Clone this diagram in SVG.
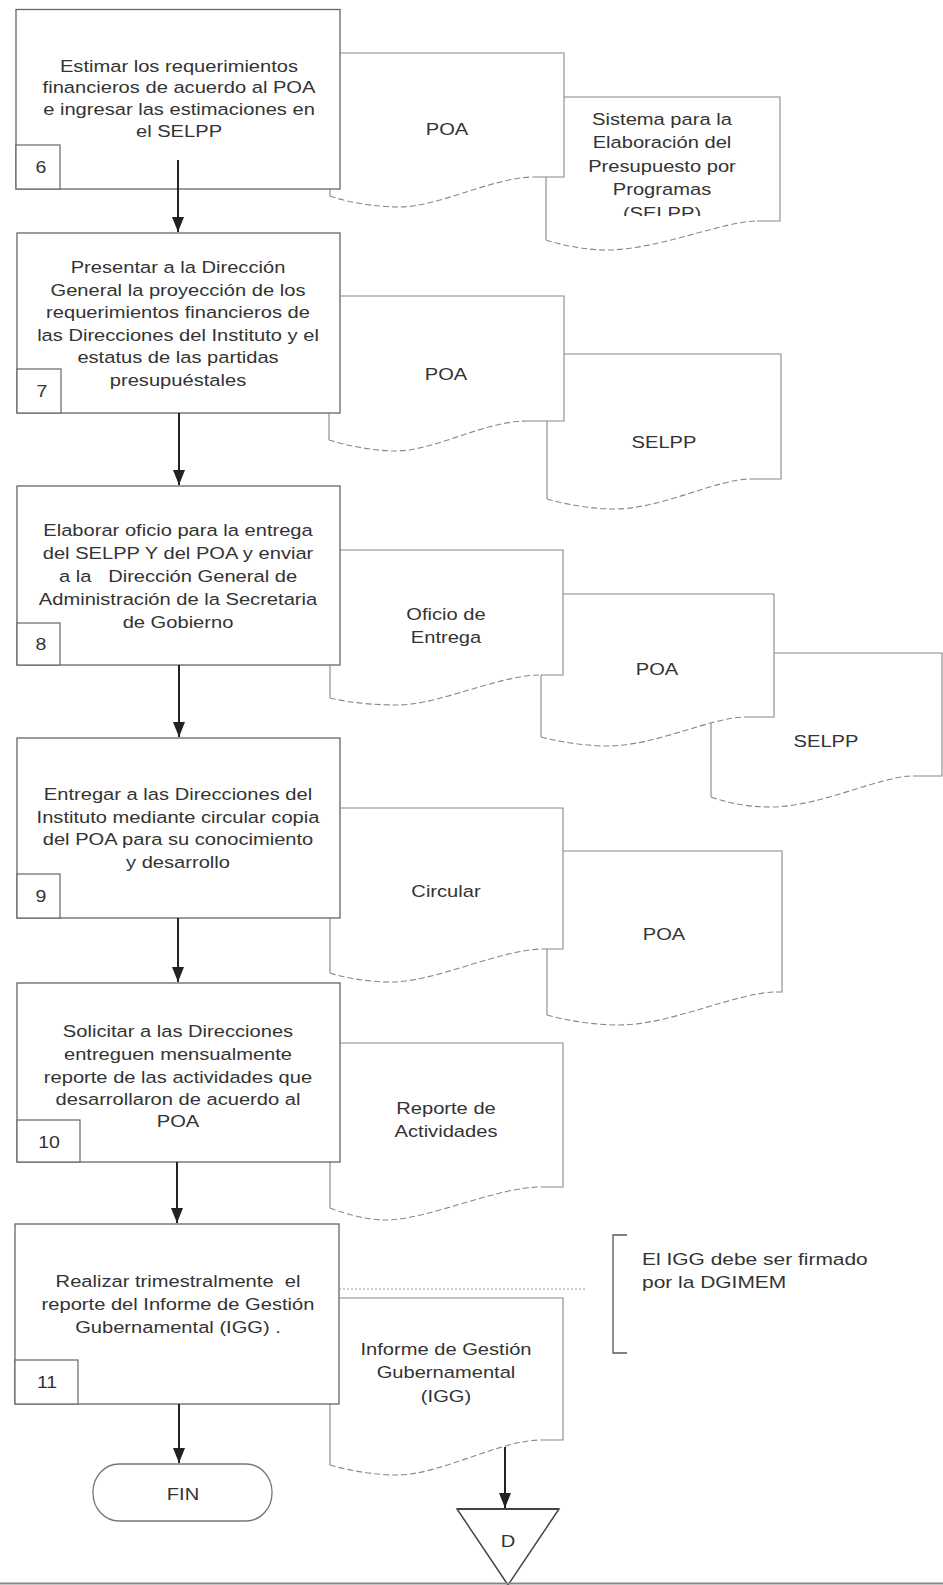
<svg xmlns="http://www.w3.org/2000/svg" width="943" height="1585" viewBox="0 0 943 1585">
<style>
  .box { fill: #fff; stroke: #666; stroke-width: 1.3; }
  .num { fill: #fff; stroke: #666; stroke-width: 1.2; }
  .docfill { fill: #fff; stroke: none; }
  .docline { fill: none; stroke: #888; stroke-width: 1.1; }
  .wave { fill: none; stroke: #888; stroke-width: 1.1; stroke-dasharray: 6 3; }
  .t { font-family: "Liberation Sans", Arial, sans-serif; font-size: 16.5px; fill: #333; text-anchor: middle; }
  .tl { font-family: "Liberation Sans", Arial, sans-serif; font-size: 16.5px; fill: #333; text-anchor: start; }
  .n { font-family: "Liberation Sans", Arial, sans-serif; font-size: 16px; fill: #333; text-anchor: middle; }
  .arrow { stroke: #222; stroke-width: 2; fill: none; marker-end: url(#ah); }
  .pre { white-space: pre; }
</style>
<defs>
  <marker id="ah" viewBox="0 -6 15 12" refX="15" refY="0" markerWidth="15" markerHeight="12" markerUnits="userSpaceOnUse" orient="auto">
    <path d="M0,-6 L15,0 L0,6 z" fill="#222"/>
  </marker>
  <clipPath id="clipSis"><rect x="546" y="90" width="240" height="126"/></clipPath>
</defs>

<!-- Row 6 documents -->
<g id="doc6b">
  <path class="docfill" d="M546,240 L546,97 L780,97 L780,221 L757,221 C723,221 658,250 606,250 C588,250 564,246 546,240 Z"/>
  <path class="docline" d="M546,240 L546,177 M564,97 L780,97 L780,221 L757,221"/>
  <path class="wave" d="M546,240 C564,246 588,250 606,250 C658,250 723,221 757,221"/>
  <g clip-path="url(#clipSis)"><g transform="translate(662,0) scale(1.22,1)">
    <text class="t" x="0" y="125">Sistema para la</text>
    <text class="t" x="0" y="148">Elaboración del</text>
    <text class="t" x="0" y="172">Presupuesto por</text>
    <text class="t" x="0" y="195">Programas</text>
    <text class="t" x="0" y="219">(SELPP)</text>
  </g></g>
</g>
<g id="doc6a">
  <path class="docfill" d="M330,196 L330,53 L564,53 L564,177 L535,177 C492,177 440,207 399,207 C378,207 350,203 330,196 Z"/>
  <path class="docline" d="M330,196 L330,189 M339,53 L564,53 L564,177 L535,177"/>
  <path class="wave" d="M330,196 C350,203 378,207 399,207 C440,207 492,177 535,177"/>
  <g transform="translate(447,0) scale(1.22,1)"><text class="t" x="0" y="135">POA</text></g>
</g>
<g id="step6">
  <rect class="box" x="16" y="9.5" width="324" height="179.5"/>
  <rect class="num" x="16" y="145" width="44" height="44"/>
  <g transform="translate(41,0) scale(1.22,1)"><text class="n" x="0" y="173">6</text></g>
  <g transform="translate(179,0) scale(1.22,1)">
    <text class="t" x="0" y="72">Estimar los requerimientos</text>
    <text class="t" x="0" y="93.5">financieros de acuerdo al POA</text>
    <text class="t" x="0" y="115">e ingresar las estimaciones en</text>
    <text class="t" x="0" y="137">el SELPP</text>
  </g>
</g>

<!-- Row 7 documents -->
<g id="doc7b">
  <path class="docfill" d="M547,499 L547,354 L781,354 L781,479 L751,479 C716,479 662,509 614,509 C594,509 567,505 547,499 Z"/>
  <path class="docline" d="M547,499 L547,421 M564,354 L781,354 L781,479 L751,479"/>
  <path class="wave" d="M547,499 C567,505 594,509 614,509 C662,509 716,479 751,479"/>
  <g transform="translate(664,0) scale(1.22,1)"><text class="t" x="0" y="448">SELPP</text></g>
</g>
<g id="doc7a">
  <path class="docfill" d="M329,440 L329,296 L564,296 L564,421 L527,421 C484,421 435,451 395,451 C375,451 348,446 329,440 Z"/>
  <path class="docline" d="M329,440 L329,413 M339,296 L564,296 L564,421 L527,421"/>
  <path class="wave" d="M329,440 C348,446 375,451 395,451 C435,451 484,421 527,421"/>
  <g transform="translate(446,0) scale(1.22,1)"><text class="t" x="0" y="380">POA</text></g>
</g>
<g id="step7">
  <rect class="box" x="17" y="233" width="323" height="180"/>
  <rect class="num" x="17" y="369" width="44" height="44"/>
  <g transform="translate(42,0) scale(1.22,1)"><text class="n" x="0" y="397">7</text></g>
  <g transform="translate(178,0) scale(1.22,1)">
    <text class="t" x="0" y="273">Presentar a la Dirección</text>
    <text class="t" x="0" y="295.6">General la proyección de los</text>
    <text class="t" x="0" y="318.2">requerimientos financieros de</text>
    <text class="t" x="0" y="340.8">las Direcciones del Instituto y el</text>
    <text class="t" x="0" y="363.4">estatus de las partidas</text>
    <text class="t" x="0" y="386">presupuéstales</text>
  </g>
</g>

<!-- Row 8 documents -->
<g id="doc8c">
  <path class="docfill" d="M711,797 L711,653 L942,653 L942,776 L913,776 C880,776 820,807 770,807 C748,807 728,803 711,797 Z"/>
  <path class="docline" d="M711,797 L711,717 M774,653 L942,653 L942,776 L913,776"/>
  <path class="wave" d="M711,797 C728,803 748,807 770,807 C820,807 880,776 913,776"/>
  <g transform="translate(826,0) scale(1.22,1)"><text class="t" x="0" y="747">SELPP</text></g>
</g>
<g id="doc8b">
  <path class="docfill" d="M541,737 L541,594 L774,594 L774,717 L746,717 C711,717 656,746 607,746 C586,746 561,742 541,737 Z"/>
  <path class="docline" d="M541,737 L541,675 M563,594 L774,594 L774,717 L746,717"/>
  <path class="wave" d="M541,737 C561,742 586,746 607,746 C656,746 711,717 746,717"/>
  <g transform="translate(657,0) scale(1.22,1)"><text class="t" x="0" y="675">POA</text></g>
</g>
<g id="doc8a">
  <path class="docfill" d="M330,698 L330,550 L563,550 L563,675 L541,675 C498,675 440,705 397,705 C376,705 350,703 330,698 Z"/>
  <path class="docline" d="M330,698 L330,665 M340,550 L563,550 L563,675 L541,675"/>
  <path class="wave" d="M330,698 C350,703 376,705 397,705 C440,705 498,675 541,675"/>
  <g transform="translate(446,0) scale(1.22,1)">
    <text class="t" x="0" y="620">Oficio de</text>
    <text class="t" x="0" y="643">Entrega</text>
  </g>
</g>
<g id="step8">
  <rect class="box" x="17" y="486" width="323" height="179"/>
  <rect class="num" x="17" y="623" width="43" height="42"/>
  <g transform="translate(41,0) scale(1.22,1)"><text class="n" x="0" y="650">8</text></g>
  <g transform="translate(178,0) scale(1.22,1)">
    <text class="t" x="0" y="536">Elaborar oficio para la entrega</text>
    <text class="t" x="0" y="559">del SELPP Y del POA y enviar</text>
    <text class="t pre" x="0" y="582">a la   Dirección General de</text>
    <text class="t" x="0" y="605">Administración de la Secretaria</text>
    <text class="t" x="0" y="628">de Gobierno</text>
  </g>
</g>

<!-- Row 9 documents -->
<g id="doc9b">
  <path class="docfill" d="M547,1015 L547,851 L782,851 L782,992 L776,992 C738,992 670,1025 619,1025 C597,1025 567,1021 547,1015 Z"/>
  <path class="docline" d="M547,1015 L547,949 M563,851 L782,851 L782,992 L776,992"/>
  <path class="wave" d="M547,1015 C567,1021 597,1025 619,1025 C670,1025 738,992 776,992"/>
  <g transform="translate(664,0) scale(1.22,1)"><text class="t" x="0" y="940">POA</text></g>
</g>
<g id="doc9a">
  <path class="docfill" d="M330,973 L330,808 L563,808 L563,949 L544,949 C500,949 436,982 391,982 C372,982 348,979 330,973 Z"/>
  <path class="docline" d="M330,973 L330,918 M340,808 L563,808 L563,949 L544,949"/>
  <path class="wave" d="M330,973 C348,979 372,982 391,982 C436,982 500,949 544,949"/>
  <g transform="translate(446,0) scale(1.22,1)"><text class="t" x="0" y="897">Circular</text></g>
</g>
<g id="step9">
  <rect class="box" x="17" y="738" width="323" height="180"/>
  <rect class="num" x="17" y="874" width="43" height="44"/>
  <g transform="translate(41,0) scale(1.22,1)"><text class="n" x="0" y="902">9</text></g>
  <g transform="translate(178,0) scale(1.22,1)">
    <text class="t" x="0" y="800">Entregar a las Direcciones del</text>
    <text class="t" x="0" y="823">Instituto mediante circular copia</text>
    <text class="t" x="0" y="845">del POA para su conocimiento</text>
    <text class="t" x="0" y="868">y desarrollo</text>
  </g>
</g>

<!-- Row 10 documents -->
<g id="doc10">
  <path class="docfill" d="M330,1208 L330,1043 L563,1043 L563,1187 L541,1187 C496,1187 428,1220 385,1220 C367,1220 346,1214 330,1208 Z"/>
  <path class="docline" d="M330,1208 L330,1162 M340,1043 L563,1043 L563,1187 L541,1187"/>
  <path class="wave" d="M330,1208 C346,1214 367,1220 385,1220 C428,1220 496,1187 541,1187"/>
  <g transform="translate(446,0) scale(1.22,1)">
    <text class="t" x="0" y="1114">Reporte de</text>
    <text class="t" x="0" y="1137">Actividades</text>
  </g>
</g>
<g id="step10">
  <rect class="box" x="17" y="983" width="323" height="179"/>
  <rect class="num" x="17" y="1120" width="63" height="42"/>
  <g transform="translate(49,0) scale(1.22,1)"><text class="n" x="0" y="1148">10</text></g>
  <g transform="translate(178,0) scale(1.22,1)">
    <text class="t" x="0" y="1037">Solicitar a las Direcciones</text>
    <text class="t" x="0" y="1060">entreguen mensualmente</text>
    <text class="t" x="0" y="1083">reporte de las actividades que</text>
    <text class="t" x="0" y="1105">desarrollaron de acuerdo al</text>
    <text class="t" x="0" y="1127">POA</text>
  </g>
</g>

<!-- Row 11 documents -->
<g id="doc11">
  <path class="docfill" d="M330,1465 L330,1298 L563,1298 L563,1440 L541,1440 C500,1440 440,1475 397,1475 C376,1475 350,1471 330,1465 Z"/>
  <path class="docline" d="M330,1465 L330,1404 M339,1298 L563,1298 L563,1440 L541,1440"/>
  <path class="wave" d="M330,1465 C350,1471 376,1475 397,1475 C440,1475 500,1440 541,1440"/>
  <g transform="translate(446,0) scale(1.22,1)">
    <text class="t" x="0" y="1355">Informe de Gestión</text>
    <text class="t" x="0" y="1378">Gubernamental</text>
    <text class="t" x="0" y="1402">(IGG)</text>
  </g>
</g>
<g id="step11">
  <rect class="box" x="15" y="1224" width="324" height="180"/>
  <rect class="num" x="15" y="1360" width="63" height="44"/>
  <g transform="translate(47,0) scale(1.22,1)"><text class="n" x="0" y="1388">11</text></g>
  <g transform="translate(178,0) scale(1.22,1)">
    <text class="t pre" x="0" y="1287">Realizar trimestralmente  el</text>
    <text class="t" x="0" y="1310">reporte del Informe de Gestión</text>
    <text class="t" x="0" y="1333">Gubernamental (IGG) .</text>
  </g>
</g>

<!-- Annotation -->
<g id="note">
  <path d="M627,1235 L613,1235 L613,1353 L627,1353" fill="none" stroke="#555" stroke-width="1.3"/>
  <g transform="translate(642,0) scale(1.27,1)">
    <text class="tl" x="0" y="1265">El IGG debe ser firmado</text>
    <text class="tl" x="0" y="1288">por la DGIMEM</text>
  </g>
</g>

<!-- Terminator -->
<g id="fin">
  <rect x="93" y="1464" width="179" height="57" rx="26" ry="28" fill="#fff" stroke="#777" stroke-width="1.3"/>
  <g transform="translate(183,0) scale(1.22,1)"><text class="t" x="0" y="1500">FIN</text></g>
</g>

<!-- Off-page connector -->
<g id="offpageD">
  <polygon points="457,1509 559,1509 508,1585" fill="#fff" stroke="#444" stroke-width="1.5"/>
  <line x1="457" y1="1509" x2="559" y2="1509" stroke="#444" stroke-width="2.2"/>
  <g transform="translate(508,0) scale(1.22,1)"><text class="t" x="0" y="1547">D</text></g>
</g>

<!-- Connectors -->
<g id="connectors">
  <line class="arrow" x1="178" y1="160" x2="178" y2="232"/>
  <line class="arrow" x1="179" y1="413" x2="179" y2="485"/>
  <line class="arrow" x1="179" y1="665" x2="179" y2="737"/>
  <line class="arrow" x1="178" y1="918" x2="178" y2="982"/>
  <line class="arrow" x1="177" y1="1162" x2="177" y2="1223"/>
  <line class="arrow" x1="179" y1="1404" x2="179" y2="1463"/>
  <line class="arrow" x1="505" y1="1447" x2="505" y2="1508"/>
  <line x1="339" y1="1289" x2="586" y2="1289" stroke="#999" stroke-width="1" stroke-dasharray="2 2"/>
</g>

<!-- Page bottom line -->
<line x1="0" y1="1583.5" x2="943" y2="1583.5" stroke="#888" stroke-width="2"/>
</svg>
